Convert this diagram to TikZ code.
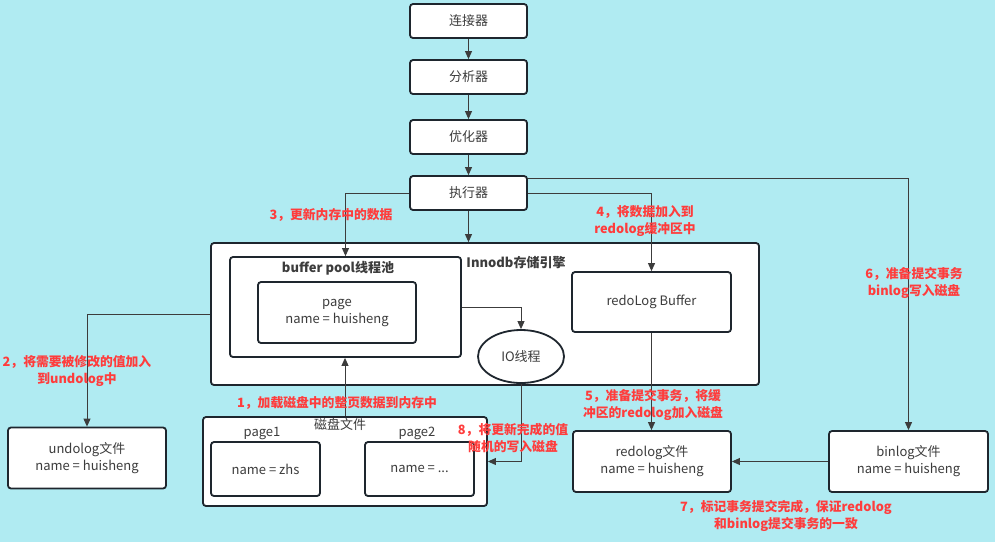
\documentclass[tikz,border=0pt]{standalone}
\usepackage{fontspec}
\setmainfont{Noto Sans CJK SC}
\usetikzlibrary{arrows.meta,shapes.geometric}
\definecolor{bgcyan}{RGB}{176,235,242}
\definecolor{boxline}{RGB}{30,38,46}
\definecolor{txtgray}{RGB}{60,60,60}
\definecolor{notered}{RGB}{255,60,60}

\begin{document}
\begin{tikzpicture}[x=1pt,y=-1pt,
	box/.style={draw=boxline, line width=1.8pt, rounded corners=3pt, fill=white, text=txtgray, align=center, inner sep=0pt, font=\fontsize{13}{17}\selectfont},
	srv/.style={box, minimum width=117pt, minimum height=34pt},
	filebox/.style={box, minimum width=158pt, minimum height=61pt},
	conn/.style={draw=txtgray, line width=0.9pt, -{Triangle[length=8pt,width=7pt]}},
	note/.style={text=notered, font=\bfseries\fontsize{12.8}{16.5}\selectfont, align=center},
	title/.style={text=txtgray, font=\fontsize{13}{15}\selectfont}]
	
	% Sfondo
	\fill[bgcyan] (0,0) rectangle (995,542);
	\useasboundingbox (0,0) rectangle (995,542);
	
	% Server
	\node[srv] (conn) at (468.5,21) {连接器};
	\node[srv] (ana) at (468.5,77) {分析器};
	\node[srv] (opt) at (468.5,137) {优化器};
	\node[srv] (exe) at (468.5,193) {执行器};
	
	% Innodb
	\node[box, minimum width=548pt, minimum height=142pt] (innodb) at (485,314) {};
	\node[title, font=\bfseries\fontsize{13}{15}\selectfont] (innodbT) at (516,263) {Innodb存储引擎};
	\node[box, minimum width=231pt, minimum height=100pt] (pool) at (345.5,307) {};
	\node[title, font=\bfseries\fontsize{13}{15}\selectfont] (poolT) at (338,268) {buffer pool线程池};
	\node[box, minimum width=158pt, minimum height=61pt] (page) at (337,312.5) {page\\name = huisheng};
	\node[box, ellipse, minimum width=86pt, minimum height=53pt] (io) at (521,356.5) {IO线程};
	\node[box, minimum width=159pt, minimum height=60pt] (rbuf) at (651.5,302) {redoLog Buffer};
	
	% File
	\node[filebox] (undo) at (87,458) {undolog文件\\name = huisheng};
	\node[box, minimum width=284pt, minimum height=89pt] (disk) at (345,461.5) {};
	\node[title] (diskT) at (340,424) {磁盘文件};
	\node[title] (p1T) at (262,433) {page1};
	\node[title] (p2T) at (417,433) {page2};
	\node[box, minimum width=109pt, minimum height=54pt] (p1) at (265.5,469) {name = zhs};
	\node[box, minimum width=109pt, minimum height=54pt] (p2) at (419.5,469) {name = ...};
	\node[filebox] (redo) at (652,461.5) {redolog文件\\name = huisheng};
	\node[filebox, minimum width=159pt] (bin) at (908.5,461.5) {binlog文件\\name = huisheng};
	
	% Frecce
	\draw[conn] (conn) -- (ana);
	\draw[conn] (ana) -- (opt);
	\draw[conn] (opt) -- (exe);
	\draw[conn] (exe.south) -- (exe.south |- innodb.north);
	\draw[conn] (exe.west) -| (pool.north);
	\draw[conn] (exe.east) -| (rbuf.north);
	\draw[conn] ([yshift=15pt]exe.east) -| (bin.north);
	\draw[conn] (innodb.west) -| (undo.north);
	\draw[conn] (pool.east) -| (io.north);
	\draw[conn] (io.south) |- (disk.east);
	\draw[conn] (disk.north) -- (disk.north |- pool.south);
	\draw[conn] (rbuf.south) -- (rbuf.south |- redo.north);
	\draw[conn] (bin.west) -- (redo.east);
	
	% Passi
	\node[note] (n1) at (337,403) {1，加载磁盘中的整页数据到内存中};
	\node[note] (n2) at (77,371) {2，将需要被修改的值加入\\到undolog中};
	\node[note] (n3) at (331,215) {3，更新内存中的数据};
	\node[note] (n4) at (645,221) {4，将数据加入到\\redolog缓冲区中};
	\node[note] (n5) at (653,405) {5，准备提交事务，将缓\\冲区的redolog加入磁盘};
	\node[note] (n6) at (914,283) {6，准备提交事务\\binlog写入磁盘};
	\node[note] (n7) at (786,516) {7，标记事务提交完成，保证redolog\\和binlog提交事务的一致};
	\node[note] (n8) at (513,438) {8，将更新完成的值\\随机的写入磁盘};
\end{tikzpicture}
\end{document}
